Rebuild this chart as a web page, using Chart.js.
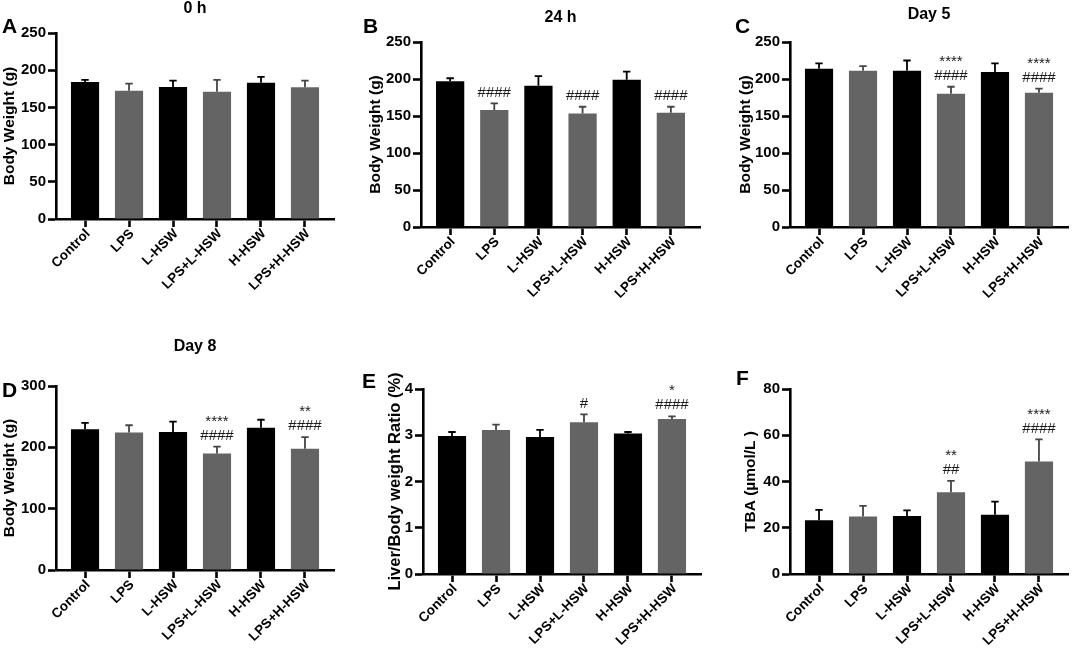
<!DOCTYPE html>
<html>
<head>
<meta charset="utf-8">
<script src="https://cdn.jsdelivr.net/npm/chart.js@4.4.0/dist/chart.umd.min.js"></script>
<style>
  html, body { margin: 0; padding: 0; background: #fff; }
  #wrap { position: relative; width: 1072px; height: 650px; overflow: hidden; }
  canvas { position: absolute; }
</style>
</head>
<body>
<div id="wrap">
  <canvas id="cA" width="357" height="320" style="left:0px;top:0px"></canvas>
  <canvas id="cB" width="357" height="320" style="left:360px;top:0px"></canvas>
  <canvas id="cC" width="355" height="320" style="left:717px;top:0px"></canvas>
  <canvas id="cD" width="357" height="320" style="left:0px;top:330px"></canvas>
  <canvas id="cE" width="357" height="320" style="left:360px;top:330px"></canvas>
  <canvas id="cF" width="355" height="320" style="left:717px;top:330px"></canvas>
</div>
<script>
// groups on the x axis
const groups = ["Control", "LPS", "L-HSW", "LPS+L-HSW", "H-HSW", "LPS+H-HSW"];
const barColors = ["#000000", "#646464", "#000000", "#646464", "#000000", "#646464"];
const errColors = ["#000000", "#454545", "#000000", "#454545", "#000000", "#454545"];
const noMarks = ["", "", "", "", "", ""];

// A - body weight 0 h
const weight0h = [184, 172.5, 177.5, 171, 183, 177];
const sd0h = [3, 9.5, 8.5, 16, 8, 9];

// B - body weight 24 h
const weight24h = [197, 158, 191, 153.5, 199, 154.5];
const sd24h = [4, 9, 13, 9, 11, 8];
const hash24h = ["", "####", "", "####", "", "####"];

// C - body weight day 5
const weightDay5 = [214, 211, 211, 180, 209.5, 181.5];
const sdDay5 = [7, 6.5, 14, 9.5, 11.5, 5.5];
const hashDay5 = ["", "", "", "####", "", "####"];
const starDay5 = ["", "", "", "****", "", "****"];

// D - body weight day 8
const weightDay8 = [229.5, 224, 225, 190, 232, 197.5];
const sdDay8 = [10.5, 12, 17, 11, 13, 19];
const hashDay8 = ["", "", "", "####", "", "####"];
const starDay8 = ["", "", "", "****", "", "**"];

// E - liver / body weight ratio
const liverRatio = [2.985, 3.115, 2.96, 3.28, 3.036, 3.35];
const sdLiver = [0.085, 0.115, 0.155, 0.17, 0.034, 0.06];
const hashLiver = ["", "", "", "#", "", "####"];
const starLiver = ["", "", "", "", "", "*"];

// F - TBA
const tba = [23.2, 24.9, 25.1, 35.4, 25.6, 48.7];
const sdTba = [4.5, 4.6, 2.4, 4.9, 5.7, 9.5];
const hashTba = ["", "", "", "##", "", "####"];
const starTba = ["", "", "", "**", "", "****"];

Chart.defaults.font.family = '"Liberation Sans", Arial, sans-serif';
Chart.defaults.color = '#000';

const panels = [
  { id: 'cA', box: [0, 0, 357, 320], area: [56, 33, 334, 219], letter: 'A', letterAt: [2, 33],
    title: '0 h', titleY: 9, yTitle: 'Body Weight (g)', yTitleX: 9.7, yTitleSize: 15.5,
    yMax: 250, yStep: 50, values: weight0h, sd: sd0h, hash: noMarks, stars: noMarks },
  { id: 'cB', box: [360, 0, 357, 320], area: [421, 42, 700, 227], letter: 'B', letterAt: [363, 33],
    title: '24 h', titleY: 18, yTitle: 'Body Weight (g)', yTitleX: 375.5, yTitleSize: 15.5,
    yMax: 250, yStep: 50, values: weight24h, sd: sd24h, hash: hash24h, stars: noMarks },
  { id: 'cC', box: [717, 0, 355, 320], area: [790, 42, 1068, 227], letter: 'C', letterAt: [735, 33],
    title: 'Day 5', titleY: 15, yTitle: 'Body Weight (g)', yTitleX: 745.5, yTitleSize: 15.5,
    yMax: 250, yStep: 50, values: weightDay5, sd: sdDay5, hash: hashDay5, stars: starDay5 },
  { id: 'cD', box: [0, 330, 357, 320], area: [56, 386, 334, 570], letter: 'D', letterAt: [2, 397],
    title: 'Day 8', titleY: 347, yTitle: 'Body Weight (g)', yTitleX: 9.7, yTitleSize: 15.5,
    yMax: 300, yStep: 100, values: weightDay8, sd: sdDay8, hash: hashDay8, stars: starDay8 },
  { id: 'cE', box: [360, 330, 357, 320], area: [423, 389, 701, 574], letter: 'E', letterAt: [362, 388],
    title: '', titleY: 0, yTitle: 'Liver/Body weight Ratio (%)', yTitleX: 395, yTitleSize: 16.5,
    yMax: 4, yStep: 1, values: liverRatio, sd: sdLiver, hash: hashLiver, stars: starLiver },
  { id: 'cF', box: [717, 330, 355, 320], area: [790, 389, 1068, 574], letter: 'F', letterAt: [736, 385],
    title: '', titleY: 0, yTitle: 'TBA (µmol/L )', yTitleX: 750.5, yTitleSize: 15.5,
    yMax: 80, yStep: 20, values: tba, sd: sdTba, hash: hashTba, stars: starTba }
];

function makePanel(p) {
  const [cx, cy, cw, ch] = p.box;
  const [al, at, ar, ab] = p.area;
  const padLeft = p.yTitleX - 0.6 * p.yTitleSize - cx;
  const yWidth = al - cx - padLeft;
  const xHeight = cy + ch - ab;

  const decor = {
    id: 'decor',
    afterDatasetsDraw(chart) {
      const ctx = chart.ctx;
      const meta = chart.getDatasetMeta(0);
      const ys = chart.scales.y;
      ctx.save();
      meta.data.forEach((bar, i) => {
        const top = ys.getPixelForValue(p.values[i] + p.sd[i]);
        ctx.strokeStyle = errColors[i];
        ctx.lineWidth = 1.8;
        ctx.beginPath();
        ctx.moveTo(bar.x, bar.y);
        ctx.lineTo(bar.x, top);
        ctx.moveTo(bar.x - 3.7, top);
        ctx.lineTo(bar.x + 3.7, top);
        ctx.stroke();

        ctx.fillStyle = '#1a1a1a';
        ctx.font = '15px "Liberation Sans", Arial, sans-serif';
        ctx.textAlign = 'center';
        ctx.textBaseline = 'middle';
        const base = top - 11;
        if (p.hash[i]) ctx.fillText(p.hash[i], bar.x, base);
        if (p.stars[i]) ctx.fillText(p.stars[i], bar.x, base - 14);
      });
      ctx.restore();
    },
    afterDraw(chart) {
      const ctx = chart.ctx;
      const ca = chart.chartArea;
      ctx.save();
      ctx.fillStyle = '#000';
      if (p.title) {
        ctx.font = 'bold 16px "Liberation Sans", Arial, sans-serif';
        ctx.textAlign = 'center';
        ctx.textBaseline = 'middle';
        ctx.fillText(p.title, (ca.left + ca.right) / 2, p.titleY - cy);
      }
      ctx.font = 'bold 21px "Liberation Sans", Arial, sans-serif';
      ctx.textAlign = 'left';
      ctx.textBaseline = 'alphabetic';
      ctx.fillText(p.letter, p.letterAt[0] - cx, p.letterAt[1] - cy);
      ctx.restore();
    }
  };

  new Chart(document.getElementById(p.id), {
    type: 'bar',
    data: {
      datasets: [{
        data: p.values.map((v, i) => ({ x: i, y: v })),
        backgroundColor: barColors,
        borderWidth: 0,
        categoryPercentage: 0.8,
        barPercentage: 0.8
      }]
    },
    options: {
      responsive: false,
      animation: false,
      events: [],
      layout: { padding: { left: padLeft, top: at - cy, right: cx + cw - ar, bottom: 0 } },
      plugins: { legend: { display: false }, tooltip: { enabled: false } },
      scales: {
        x: {
          type: 'linear',
          offset: false,
          min: -0.66,
          max: 5.66,
          border: { display: true, color: '#000', width: 2.6 },
          grid: { display: true, offset: false, drawOnChartArea: false, drawTicks: true, tickLength: 8, tickWidth: 2.6, tickColor: '#000' },
          ticks: {
            stepSize: 1,
            includeBounds: false,
            autoSkip: false,
            maxRotation: 45,
            minRotation: 45,
            padding: -1,
            labelOffset: 3,
            color: '#000',
            font: { size: 13.5, weight: 'bold' },
            callback: (v) => groups[v]
          },
          afterFit: (s) => { s.height = xHeight; }
        },
        y: {
          min: 0,
          max: p.yMax,
          border: { display: true, color: '#000', width: 2.6 },
          grid: { display: true, drawOnChartArea: false, drawTicks: true, tickLength: 8, tickWidth: 2.6, tickColor: '#000' },
          ticks: { stepSize: p.yStep, padding: 2, color: '#000', font: { size: 15, weight: 'bold' } },
          title: {
            display: true,
            text: p.yTitle,
            color: '#000',
            font: { size: p.yTitleSize, weight: 'bold' },
            padding: { top: 0, bottom: 0 }
          },
          afterFit: (s) => { s.width = yWidth; }
        }
      }
    },
    plugins: [decor]
  });
}

panels.forEach(makePanel);
</script>
</body>
</html>
